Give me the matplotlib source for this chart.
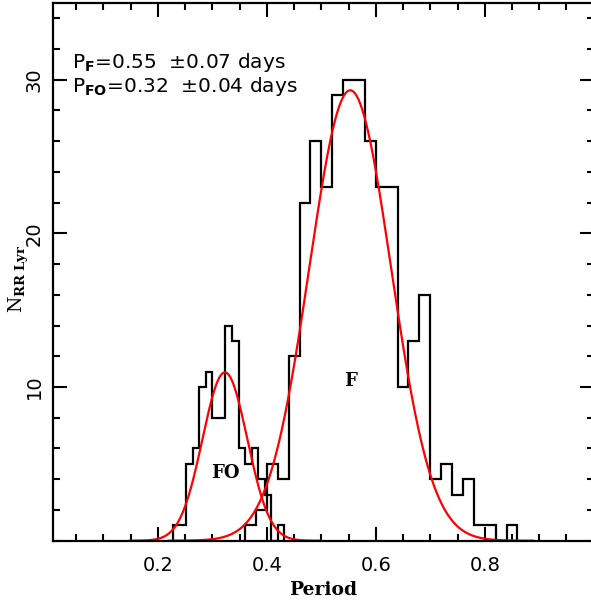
import numpy as np
import matplotlib
matplotlib.use("Agg")
import matplotlib.pyplot as plt
from matplotlib.ticker import MultipleLocator, FixedLocator

# ---- data ----
# fundamental-mode (F) histogram, bin width 0.02 starting at 0.36
f_start = 0.36
f_bin = 0.02
f_counts = [1, 2, 5, 4, 12, 22, 26, 23, 29, 30, 30, 26, 23, 23, 10, 13, 16,
            4, 5, 3, 4, 1, 1, 0, 1]
# first-overtone (FO) histogram, bin width 0.012 starting at 0.228
fo_start = 0.228
fo_bin = 0.012
fo_counts = [1, 1, 5, 6, 10, 11, 8, 8, 14, 13, 6, 5, 6, 4, 3, 0, 1]

# Gaussian fits (mean, sigma, amplitude, drawn range)
f_mean, f_sigma, f_amp, f_range = 0.553, 0.075, 29.3, (0.22, 0.888)
fo_mean, fo_sigma, fo_amp, fo_range = 0.323, 0.041, 10.95, (0.149, 0.499)

xticks = [0.2, 0.4, 0.6, 0.8]
yticks = [10, 20, 30]

# ---- figure ----
plt.rcParams["mathtext.fontset"] = "dejavusans"
fig = plt.figure(figsize=(5.91, 6.01), dpi=100)
ax = fig.add_axes([53.3 / 591, 60.3 / 601, 540.4 / 591, 538.0 / 601])

f_edges = f_start + f_bin * np.arange(len(f_counts) + 1)
fo_edges = fo_start + fo_bin * np.arange(len(fo_counts) + 1)
ax.stairs(f_counts, f_edges, color="black", lw=1.6, baseline=0)
ax.stairs(fo_counts, fo_edges, color="black", lw=1.6, baseline=0)

def gauss(x, m, s, a):
    return a * np.exp(-0.5 * ((x - m) / s) ** 2)

xf = np.linspace(*f_range, 400)
xfo = np.linspace(*fo_range, 400)
ax.plot(xf, gauss(xf, f_mean, f_sigma, f_amp), color="red", lw=1.6)
ax.plot(xfo, gauss(xfo, fo_mean, fo_sigma, fo_amp), color="red", lw=1.6)

ax.set_xlim(0.008, 1.0)
ax.set_ylim(0, 35)

ax.xaxis.set_major_locator(FixedLocator(xticks))
ax.xaxis.set_minor_locator(MultipleLocator(0.05))
ax.yaxis.set_major_locator(FixedLocator(yticks))
ax.yaxis.set_minor_locator(MultipleLocator(2))
ax.tick_params(which="both", direction="in", top=True, right=True, width=1.5)
ax.tick_params(which="major", length=10)
ax.tick_params(which="minor", length=5)
ax.tick_params(axis="x", labelsize=14, pad=11)
ax.tick_params(axis="y", labelsize=14, pad=7)
ax.set_xticklabels([f"{v:.1f}" for v in xticks])
ax.set_yticklabels([str(v) for v in yticks], rotation=90, va="center")
for s in ax.spines.values():
    s.set_linewidth(1.6)

ax.set_xlabel("Period", fontsize=13.5, family="DejaVu Serif", fontweight="bold", labelpad=4)
ax.set_ylabel(r"N$_{\mathbf{RR\ Lyr}}$", fontsize=13.5, family="DejaVu Serif",
              math_fontfamily="dejavuserif")
ax.yaxis.set_label_coords(-0.041, 0.487)

ax.text(0.042, 31.1, r"P$_{\mathbf{F}}$=0.55  ±0.07 days", fontsize=14.5, va="center")
ax.text(0.042, 29.55, r"P$_{\mathbf{FO}}$=0.32  ±0.04 days", fontsize=14.5, va="center")
ax.text(0.324, 4.4, "FO", fontsize=13, family="DejaVu Serif", fontweight="bold",
        ha="center", va="center")
ax.text(0.553, 10.4, "F", fontsize=13, family="DejaVu Serif", fontweight="bold",
        ha="center", va="center")

fig.savefig("out.png", dpi=100)
